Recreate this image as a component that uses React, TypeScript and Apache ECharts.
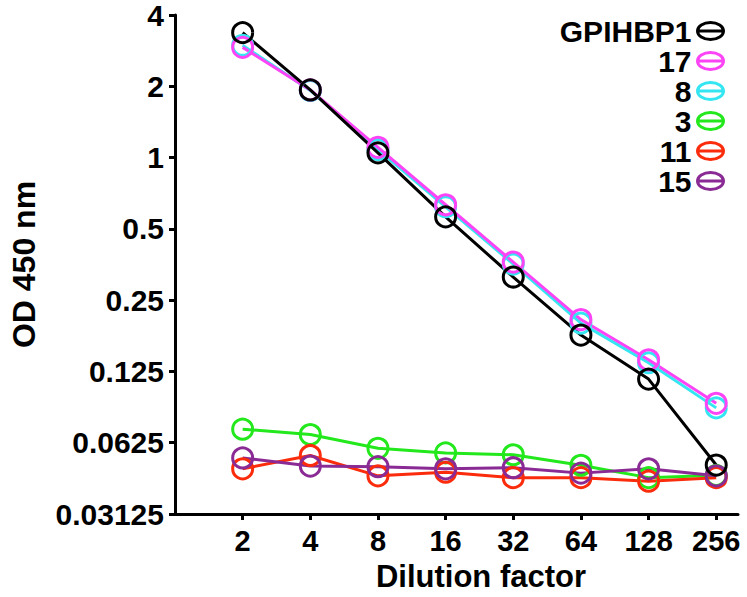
import React, { useEffect, useRef } from 'react';
import * as echarts from 'echarts';

const dilutions = [2, 4, 8, 16, 32, 64, 128, 256];
const yTickValues = [0.03125, 0.0625, 0.125, 0.25, 0.5, 1, 2, 4];
const legendOrder = ['GPIHBP1', '17', '8', '3', '11', '15'];

const gpihbp1 = [3.37, 1.93, 1.047, 0.562, 0.313, 0.178, 0.116, 0.0503];
const clone17 = [2.92, 1.93, 1.105, 0.632, 0.362, 0.207, 0.14, 0.0917];
const clone8 = [2.98, 1.92, 1.08, 0.62, 0.355, 0.2, 0.136, 0.0877];
const clone3 = [0.0713, 0.0677, 0.0592, 0.0566, 0.0556, 0.0502, 0.0445, 0.0455];
const clone11 = [0.0485, 0.0552, 0.0453, 0.0469, 0.0445, 0.0445, 0.043, 0.0445];
const clone15 = [0.0539, 0.0498, 0.0495, 0.0485, 0.049, 0.0465, 0.0485, 0.0453];

const colors: Record<string, string> = {
  GPIHBP1: '#000000',
  '17': '#fb44f5',
  '8': '#33e6f2',
  '3': '#22e81c',
  '11': '#fa2c0c',
  '15': '#8a2a94',
};

// drawing order (last on top)
const drawOrder: [string, number[]][] = [
  ['3', clone3],
  ['11', clone11],
  ['15', clone15],
  ['8', clone8],
  ['17', clone17],
  ['GPIHBP1', gpihbp1],
];

const FONT = '"Liberation Sans", Arial, Helvetica, sans-serif';
const legendIcon = 'path://M1,9A13,8.5 0 1,1 27,9A13,8.5 0 1,1 1,9ZM0,9L28,9';

export default function App() {
  const ref = useRef<HTMLDivElement>(null);
  useEffect(() => {
    if (!ref.current) return;
    const chart = echarts.init(ref.current, null, { renderer: 'svg' });
    const option: any = {
      animation: false,
      backgroundColor: '#ffffff',
      grid: { left: 167, right: 9, top: 14, bottom: 76, containLabel: false },
      legend: {
        orient: 'vertical',
        right: 16,
        top: 11,
        align: 'right',
        itemWidth: 28,
        itemHeight: 18,
        itemGap: 0,
        selectedMode: false,
        textStyle: { fontFamily: FONT, fontWeight: 'bold', fontSize: 30, color: '#000', lineHeight: 29.5 },
        data: legendOrder.map((n) => ({
          name: n,
          icon: legendIcon,
          itemStyle: { color: 'rgba(0,0,0,0)', borderColor: colors[n], borderWidth: 3 },
        })),
      },
      xAxis: {
        type: 'log',
        logBase: 2,
        min: 1,
        max: 320,
        interval: 1,
        name: 'Dilution factor',
        nameLocation: 'middle',
        nameGap: 47,
        nameTextStyle: { fontFamily: FONT, fontWeight: 'bold', fontSize: 31, color: '#000', padding: [0, 0, 0, 49] },
        axisLine: { show: true, lineStyle: { color: '#000', width: 3 } },
        axisTick: { show: true, length: 6, lineStyle: { color: '#000', width: 3 }, customValues: dilutions },
        axisLabel: {
          fontFamily: FONT,
          fontWeight: 'bold',
          fontSize: 29,
          color: '#000',
          margin: 12,
          customValues: dilutions,
          formatter: (v: number) => String(Math.round(v)),
        },
        splitLine: { show: false },
        minorTick: { show: false },
      },
      yAxis: {
        type: 'log',
        logBase: 2,
        min: yTickValues[0],
        max: yTickValues[yTickValues.length - 1],
        interval: 1,
        name: 'OD 450 nm',
        nameLocation: 'middle',
        nameGap: 135,
        nameRotate: 90,
        nameTextStyle: { fontFamily: FONT, fontWeight: 'bold', fontSize: 32, color: '#000' },
        axisLine: { show: true, lineStyle: { color: '#000', width: 3 } },
        axisTick: { show: true, length: 6, lineStyle: { color: '#000', width: 3 }, customValues: yTickValues },
        axisLabel: {
          fontFamily: FONT,
          fontWeight: 'bold',
          fontSize: 30,
          color: '#000',
          margin: 11,
          customValues: yTickValues,
          formatter: (v: number) => String(v),
        },
        splitLine: { show: false },
      },
      series: drawOrder.map(([name, vals]) => ({
        name,
        type: 'line',
        data: dilutions.map((d, i) => [d, vals[i]]),
        symbol: 'circle',
        symbolSize: 20,
        showSymbol: true,
        itemStyle: { color: 'rgba(0,0,0,0)', borderColor: colors[name], borderWidth: 3 },
        lineStyle: { color: colors[name], width: 3 },
        emphasis: { disabled: true },
      })),
    };
    chart.setOption(option);
    return () => chart.dispose();
  }, []);
  return <div ref={ref} style={{ position: 'fixed', left: 0, top: 0, width: 747, height: 597 }} />;
}
